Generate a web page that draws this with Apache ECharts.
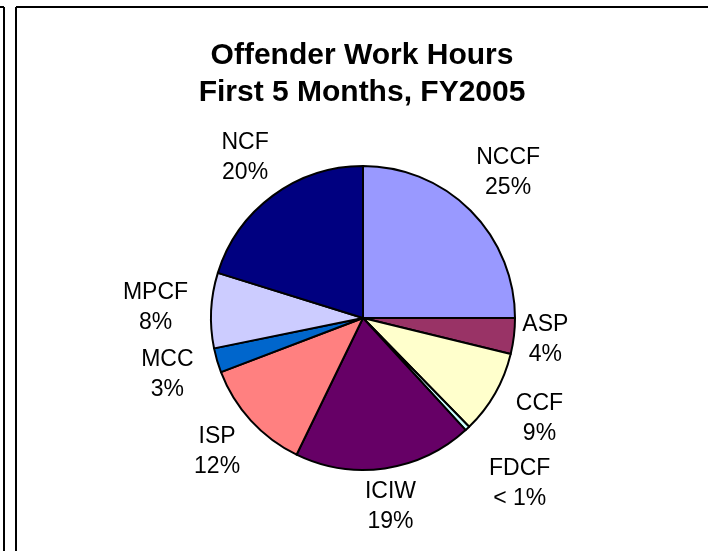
<!DOCTYPE html>
<html>
<head>
<meta charset="utf-8">
<script src="https://cdn.jsdelivr.net/npm/echarts@6/dist/echarts.min.js"></script>
<style>
  html, body { margin: 0; padding: 0; background: #fff; }
  #chart { width: 708px; height: 551px; }
</style>
</head>
<body>
<div id="chart"></div>
<script>
// slice order is clockwise from 12 o'clock
const sites = ['NCCF', 'ASP', 'CCF', 'FDCF', 'ICIW', 'ISP', 'MCC', 'MPCF', 'NCF'];
const workHours = [25, 3.8, 8.9, 0.5, 19, 12, 2.6, 8, 20.2];
const sliceColors = ['#9999FF', '#993366', '#FFFFCC', '#CCFFFF', '#660066', '#FF8080', '#0066CC', '#CCCCFF', '#000080'];
// extra space between pie edge and each label
const labelGap = [14, 6, 19, 38, 12, 13, 20, 22, 14];

const cx = 363, cy = 318, R = 152;
const total = workHours.reduce((a, b) => a + b, 0);

function midAngle(i) {
  let cum = 0;
  for (let k = 0; k < i; k++) cum += workHours[k];
  return (cum + workHours[i] / 2) / total * Math.PI * 2;
}

const chart = echarts.init(document.getElementById('chart'));

const option = {
  animation: false,
  backgroundColor: '#fff',
  title: {
    text: 'Offender Work Hours\nFirst 5 Months, FY2005',
    left: 362,
    top: 37,
    padding: 0,
    textAlign: 'center',
    textStyle: {
      fontFamily: 'Liberation Sans, Arial, sans-serif',
      fontSize: 30,
      fontWeight: 'bold',
      lineHeight: 37,
      color: '#000'
    }
  },
  graphic: [
    { type: 'line', shape: { x1: 16, y1: 7, x2: 708, y2: 7 }, style: { stroke: '#000', lineWidth: 2 } },
    { type: 'line', shape: { x1: 16, y1: 7, x2: 16, y2: 551 }, style: { stroke: '#000', lineWidth: 2 } },
    { type: 'line', shape: { x1: 0, y1: 7, x2: 4, y2: 7 }, style: { stroke: '#000', lineWidth: 2 } },
    { type: 'line', shape: { x1: 4, y1: 7, x2: 4, y2: 551 }, style: { stroke: '#000', lineWidth: 2 } }
  ],
  series: [{
    type: 'pie',
    center: [cx, cy],
    radius: R,
    startAngle: 90,
    clockwise: true,
    avoidLabelOverlap: false,
    itemStyle: { borderColor: '#000', borderWidth: 2 },
    label: {
      show: true,
      position: 'outside',
      fontFamily: 'Liberation Sans, Arial, sans-serif',
      fontSize: 23,
      lineHeight: 30,
      color: '#000',
      formatter: function (p) {
        const pct = p.value / total * 100;
        return p.name + '\n' + (pct < 1 ? '< 1%' : Math.round(pct) + '%');
      }
    },
    labelLine: { show: false },
    labelLayout: function (params) {
      const i = params.dataIndex;
      const a = midAngle(i);
      const s = Math.sin(a), c = Math.cos(a);
      const w = params.labelRect.width, h = params.labelRect.height;
      const d = R + labelGap[i] + Math.abs(s) * w / 2 + Math.abs(c) * (h / 2 - 6.5);
      return {
        x: cx + d * s,
        y: cy - d * c,
        align: 'center',
        verticalAlign: 'middle'
      };
    },
    data: sites.map((name, i) => ({
      name: name,
      value: workHours[i],
      itemStyle: { color: sliceColors[i] }
    }))
  }]
};

chart.setOption(option);
</script>
</body>
</html>
